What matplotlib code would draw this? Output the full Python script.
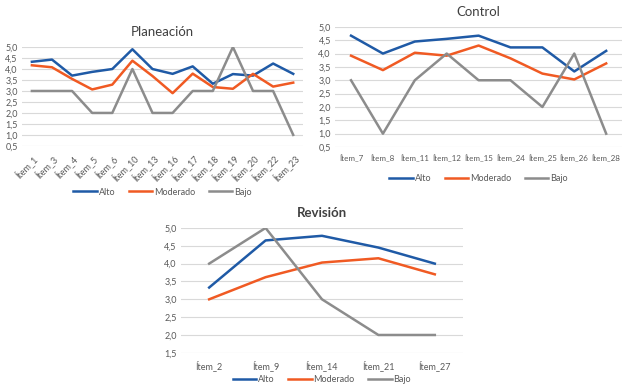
import matplotlib.pyplot as plt
from matplotlib.ticker import FuncFormatter

plt.rcParams['font.family'] = ['Lato', 'DejaVu Sans']

# Planeación
plan_items = ['Ítem_1', 'Ítem_3', 'Ítem_4', 'Ítem_5', 'Ítem_6', 'Ítem_10', 'Ítem_13',
              'Ítem_16', 'Ítem_17', 'Ítem_18', 'Ítem_19', 'Ítem_20', 'Ítem_22', 'Ítem_23']
plan_alto = [4.33, 4.43, 3.70, 3.87, 4.00, 4.90, 4.00, 3.78, 4.12, 3.33, 3.77, 3.70, 4.25, 3.78]
plan_mod = [4.17, 4.08, 3.55, 3.07, 3.29, 4.38, 3.68, 2.90, 3.79, 3.18, 3.10, 3.78, 3.20, 3.38]
plan_bajo = [3, 3, 3, 2, 2, 4, 2, 2, 3, 3, 5, 3, 3, 1]

# Control
ctrl_items = ['Ítem_7', 'Ítem_8', 'Ítem_11', 'Ítem_12', 'Ítem_15', 'Ítem_24', 'Ítem_25', 'Ítem_26', 'Ítem_28']
ctrl_alto = [4.67, 4.00, 4.45, 4.55, 4.67, 4.23, 4.23, 3.33, 4.10]
ctrl_mod = [3.92, 3.38, 4.03, 3.92, 4.30, 3.82, 3.25, 3.03, 3.63]
ctrl_bajo = [3, 1, 3, 4, 3, 3, 2, 4, 1]

# Revisión
rev_items = ['Ítem_2', 'Ítem_9', 'Ítem_14', 'Ítem_21', 'Ítem_27']
rev_alto = [3.33, 4.65, 4.78, 4.45, 4.00]
rev_mod = [3.00, 3.62, 4.03, 4.15, 3.70]
rev_bajo = [4, 5, 3, 2, 2]

series_names = ['Alto', 'Moderado', 'Bajo']
colors = ['#1F5AA6', '#F05A23', '#8C8C8C']

fig = plt.figure(figsize=(6.24, 3.89), dpi=100)
fig.patch.set_facecolor('white')

comma = FuncFormatter(lambda v, p: ('%.1f' % v).replace('.', ','))


def draw(ax, title, items, data, ymin, rot, title_bold=False, leg_y=-0.3, xsize=6.5):
    x = range(len(items))
    for vals, name, c in zip(data, series_names, colors):
        ax.plot(x, vals, color=c, lw=1.8, label=name)
    ax.set_xlim(-0.5, len(items) - 0.5)
    ax.set_ylim(ymin, 5.0)
    ticks = [ymin + 0.5 * i for i in range(int(round((5.0 - ymin) / 0.5)) + 1)]
    ax.set_yticks(ticks)
    ax.yaxis.set_major_formatter(comma)
    ax.set_xticks(list(x))
    if rot:
        ax.set_xticklabels(items, rotation=45, ha='right', rotation_mode='anchor')
    else:
        ax.set_xticklabels(items)
    ax.grid(axis='y', color='#D9D9D9', lw=0.8)
    ax.set_axisbelow(True)
    for s in ax.spines.values():
        s.set_visible(False)
    ax.tick_params(length=0, labelsize=6.5, colors='#595959', pad=3)
    ax.tick_params(axis='x', labelsize=xsize, pad=5)
    ax.set_title(title, fontsize=9.5, color='#404040',
                 fontweight='bold' if title_bold else 'normal', pad=8)
    ax.legend(loc='upper center', bbox_to_anchor=(0.5, leg_y), ncol=3, frameon=False,
              fontsize=6.5, labelcolor='#595959', handlelength=2.6, columnspacing=1.5,
              handletextpad=0.2)


ax1 = fig.add_axes([0.035, 0.625, 0.451, 0.254])
draw(ax1, 'Planeación', plan_items, [plan_alto, plan_mod, plan_bajo], 0.5, True, leg_y=-0.34)

ax2 = fig.add_axes([0.537, 0.622, 0.46, 0.309])
draw(ax2, 'Control', ctrl_items, [ctrl_alto, ctrl_mod, ctrl_bajo], 0.5, False, leg_y=-0.16, xsize=5.8)

ax3 = fig.add_axes([0.29, 0.093, 0.452, 0.321])
draw(ax3, 'Revisión', rev_items, [rev_alto, rev_mod, rev_bajo], 1.5, False, title_bold=True, leg_y=-0.11)

fig.savefig('out.png', dpi=100)
